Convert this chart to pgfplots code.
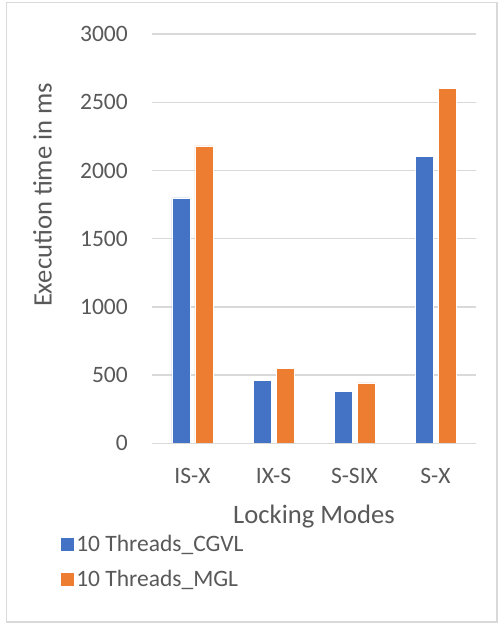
\documentclass[border=0pt]{standalone}
\usepackage{pgfplots}
\pgfplotsset{compat=1.18}
\usepackage{fontspec}
\setmainfont{Carlito}

\definecolor{cgvl}{HTML}{4472C4}
\definecolor{mgl}{HTML}{ED7D31}
\definecolor{gridc}{HTML}{D9D9D9}
\definecolor{txt}{HTML}{595959}
\definecolor{frame}{HTML}{D9D9D9}

\pgfplotstableread{
idx mode   cgvl mgl
0   IS-X   1800 2180
1   IX-S   460  550
2   S-SIX  380  443
3   S-X    2105 2600
}\lockdata

\begin{document}
\begin{tikzpicture}
  % page area and outer chart border
  \fill[white] (0pt,0pt) rectangle (502pt,624pt);
  \draw[frame, line width=1.2pt] (6.5pt,2pt) rectangle (497pt,621.5pt);

  \begin{axis}[
    at={(152pt,180.7pt)}, anchor=south west,
    scale only axis,
    width=324pt, height=409.2pt,
    ymin=0, ymax=3000,
    xmin=-0.5, xmax=3.5,
    ytick={0,500,...,3000},
    xtick=data,
    xticklabels={IS-X,IX-S,S-SIX,S-X},
    /pgf/number format/.cd, 1000 sep={}, assume math mode=true,
    /pgfplots/.cd,
    ybar=5pt, bar width=18pt,
    axis line style={draw=none},
    ymajorgrids,
    major grid style={gridc, line width=1.3pt},
    major tick length=0pt,
    every tick label/.append style={txt, font=\fontsize{23.5}{28}\selectfont},
    yticklabel style={anchor=east, inner sep=0pt, xshift=-24pt},
    xticklabel style={anchor=base, inner sep=0pt, yshift=-40pt},
    xlabel={Locking Modes},
    ylabel={Execution time in ms},
    label style={txt, font=\fontsize{26.6}{31}\selectfont, inner sep=0pt},
    xlabel style={at={(axis description cs:0.5,-0.1955)}, anchor=base},
    ylabel style={at={(axis description cs:-0.3096,0.607)}, anchor=base, rotate=0},
    legend style={
      at={(axis description cs:-0.285,-0.2193)}, anchor=north west,
      draw=none, fill=none, inner sep=0pt,
      font=\fontsize{23.5}{28}\selectfont, text=txt,
      row sep=13pt,
      /tikz/every even column/.append style={column sep=9pt},
    },
    legend cell align=left,
    legend image code/.code={\fill[#1] (0pt,-7pt) rectangle (14pt,7pt);},
  ]
    \addplot[fill=cgvl, draw=white, line width=0.4pt] table[x=idx, y=cgvl] {\lockdata};
    \addplot[fill=mgl, draw=white, line width=0.4pt] table[x=idx, y=mgl] {\lockdata};
    \draw[gridc, line width=1.3pt] (axis cs:-0.5,0) -- (axis cs:3.5,0);
    \legend{10 Threads\_CGVL, 10 Threads\_MGL}
  \end{axis}
  \pgfresetboundingbox
  \path[use as bounding box] (0pt,0pt) rectangle (502pt,624pt);
\end{tikzpicture}
\end{document}
